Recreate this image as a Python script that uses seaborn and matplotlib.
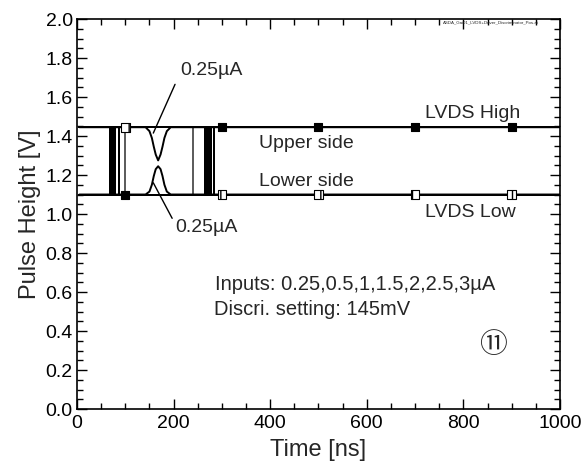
import numpy as np
import pandas as pd
import matplotlib
matplotlib.use("Agg")
import matplotlib.pyplot as plt
import seaborn as sns

# ---------------- data ----------------
inputs_uA = [0.5, 1, 1.5, 2, 2.5, 3]
lead_ns = [99, 87, 79, 75, 72, 69]
trail_ns = [240, 265, 270, 274, 278, 283]
high_v = 1.445
low_v = 1.10
t_start = 5
t_end = 1000

weak_t = [5, 142, 150, 155, 159, 163, 168, 173, 177, 181, 186, 194, 1000]
weak_upper_v = [1.445, 1.445, 1.425, 1.39, 1.345, 1.305, 1.275, 1.305, 1.345, 1.39, 1.425, 1.445, 1.445]
weak_lower_v = [1.10, 1.10, 1.115, 1.15, 1.195, 1.23, 1.245, 1.23, 1.195, 1.15, 1.115, 1.10, 1.10]

marker_t = [100, 300, 500, 700, 900]
marker_upper_v = [1.10, 1.445, 1.445, 1.445, 1.445]
marker_lower_v = [1.445, 1.10, 1.10, 1.10, 1.10]

x_ticks = [0, 200, 400, 600, 800, 1000]
y_ticks = [0.0, 0.2, 0.4, 0.6, 0.8, 1.0, 1.2, 1.4, 1.6, 1.8, 2.0]

# ---------------- build table ----------------
rows = []
for q, tl, tt in zip(inputs_uA, lead_ns, trail_ns):
    ts = [t_start, tl, tl, tt, tt, t_end]
    up = [high_v, high_v, low_v, low_v, high_v, high_v]
    lo = [low_v, low_v, high_v, high_v, low_v, low_v]
    for i, (t, v) in enumerate(zip(ts, up)):
        rows.append(dict(time=t, volt=v, trace=f"U{q}", order=i, q=q))
    for i, (t, v) in enumerate(zip(ts, lo)):
        rows.append(dict(time=t, volt=v, trace=f"L{q}", order=i, q=q))
for i, (t, v) in enumerate(zip(weak_t, weak_upper_v)):
    rows.append(dict(time=t, volt=v, trace="U0.25", order=i, q=0.25))
for i, (t, v) in enumerate(zip(weak_t, weak_lower_v)):
    rows.append(dict(time=t, volt=v, trace="L0.25", order=i, q=0.25))
df = pd.DataFrame(rows)

sns.set_style("ticks")
plt.rcParams["font.family"] = ["Liberation Sans", "DejaVu Sans"]

fig = plt.figure(figsize=(5.86, 4.66), dpi=100)
ax = fig.add_axes([0.1314, 0.1223, 0.8242, 0.8369])

dark = df[df["q"] != 0.5]
gray = df[df["q"] == 0.5]
sns.lineplot(data=gray, x="time", y="volt", units="trace", estimator=None,
             sort=False, color="#555555", lw=1.1, ax=ax)
sns.lineplot(data=dark, x="time", y="volt", units="trace", estimator=None,
             sort=False, color="black", lw=1.4, ax=ax)

sns.scatterplot(x=marker_t, y=marker_upper_v, marker="s", s=38, color="black",
                edgecolor="black", linewidth=0.8, ax=ax, zorder=5)
sns.scatterplot(x=marker_t, y=marker_lower_v, marker="s", s=38, facecolor="white",
                edgecolor="black", linewidth=0.8, hatch="||", ax=ax, zorder=5)

ax.set_xlim(0, 1000)
ax.set_ylim(0, 2.0)
ax.set_xticks(x_ticks)
ax.set_yticks(y_ticks)
ax.set_xticklabels([str(v) for v in x_ticks])
ax.set_yticklabels([f"{v:.1f}" for v in y_ticks])
ax.xaxis.set_minor_locator(matplotlib.ticker.MultipleLocator(50))
ax.yaxis.set_minor_locator(matplotlib.ticker.MultipleLocator(0.05))
ax.tick_params(which="both", direction="in", top=True, right=True, colors="black",
               width=1.0)
ax.tick_params(which="major", length=7, labelsize=14)
ax.tick_params(axis="x", which="major", pad=4)
ax.tick_params(axis="y", which="major", pad=3)
ax.tick_params(which="minor", length=4)
for s in ax.spines.values():
    s.set_visible(True)
    s.set_linewidth(1.2)
    s.set_color("black")

ax.set_xlabel("Time [ns]", fontsize=17, labelpad=5)
ax.set_ylabel("Pulse Height [V]", fontsize=17, labelpad=3)

fs = 14
ax.text(213, 1.738, "0.25µA", fontsize=fs, va="center", ha="left")
ax.text(203, 0.933, "0.25µA", fontsize=fs, va="center", ha="left")
ax.plot([158, 203], [1.415, 1.665], color="black", lw=1.0)
ax.plot([158, 197], [1.160, 0.978], color="black", lw=1.0)
ax.text(377, 1.364, "Upper side", fontsize=fs, va="center", ha="left")
ax.text(377, 1.169, "Lower side", fontsize=fs, va="center", ha="left")
ax.text(720, 1.518, "LVDS High", fontsize=fs, va="center", ha="left")
ax.text(720, 1.01, "LVDS Low", fontsize=fs, va="center", ha="left")
ax.text(286, 0.636, "Inputs: 0.25,0.5,1,1.5,2,2.5,3µA", fontsize=14.5, va="center", ha="left")
ax.text(284, 0.508, "Discri. setting: 145mV", fontsize=14.5, va="center", ha="left")
ax.text(861, 0.328, "⑪", fontsize=20, va="center", ha="center",
        family=["Noto Sans CJK JP", "DejaVu Sans"])
ax.text(0.758, 0.992, "ASDA_Gai01_LVDS+Driver_Discriminator_Pos.ai", fontsize=3.2,
        transform=ax.transAxes, va="center", ha="left", clip_on=False)

fig.savefig("out.png", dpi=100)
